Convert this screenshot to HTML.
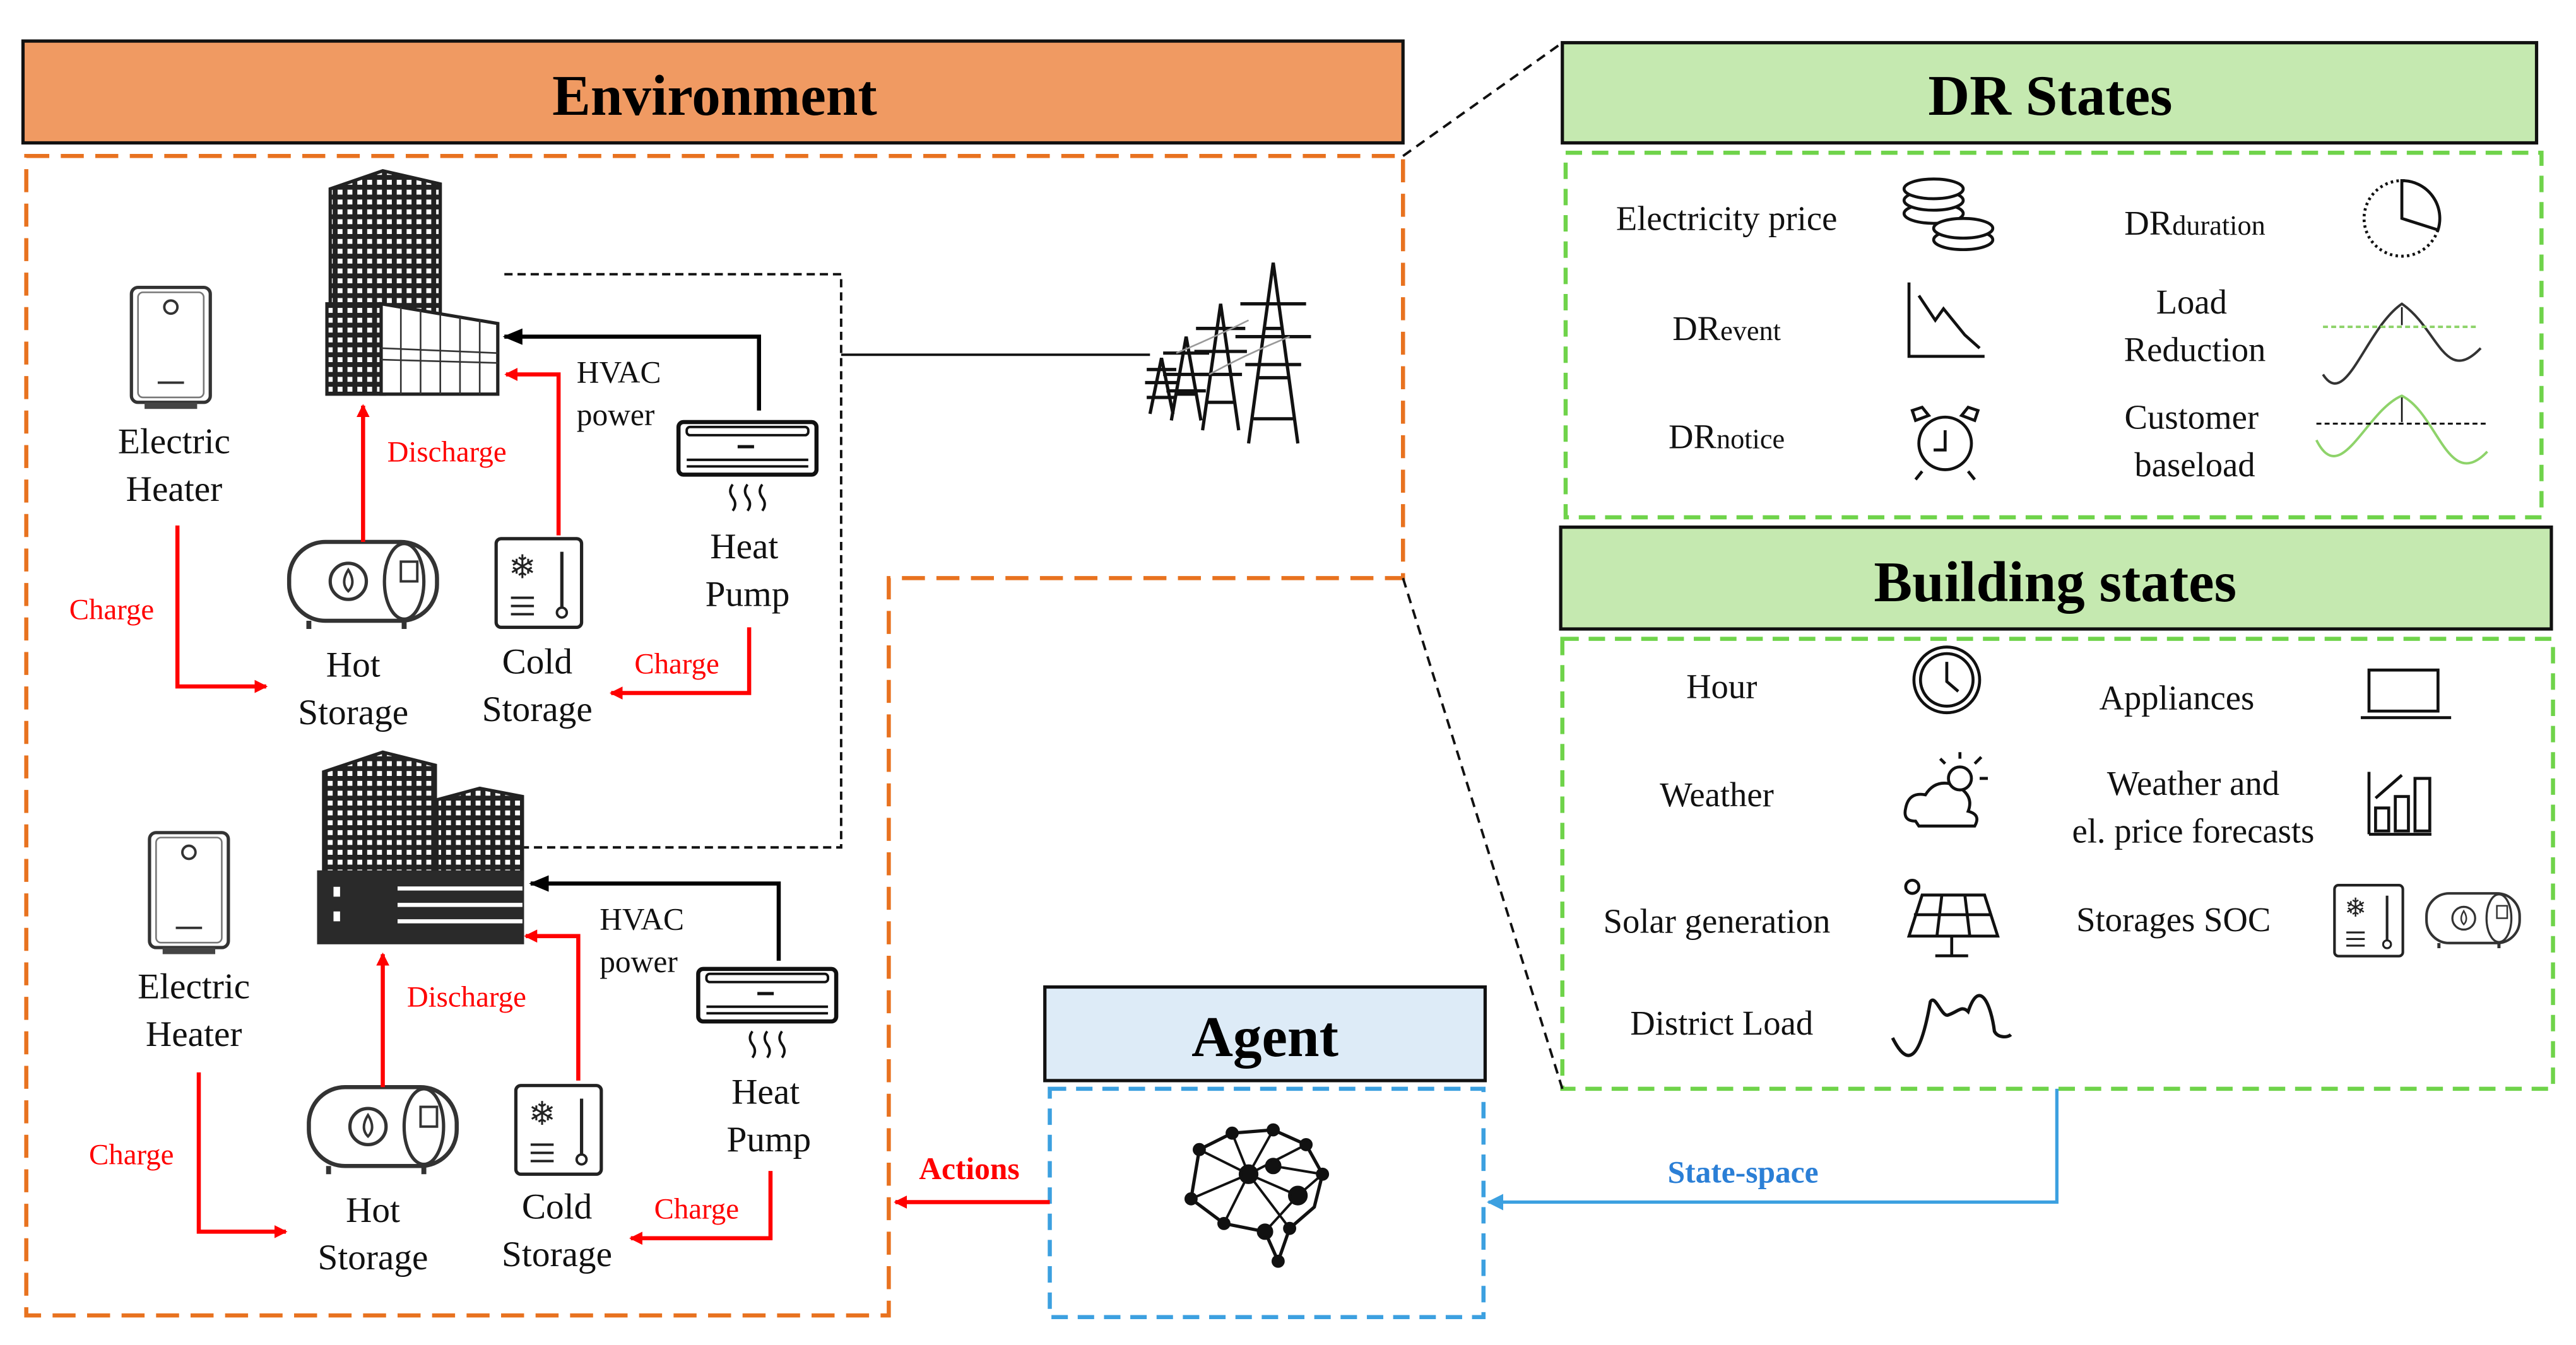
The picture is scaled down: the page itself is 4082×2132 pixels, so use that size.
<!DOCTYPE html>
<html><head><meta charset="utf-8"><style>
html,body{margin:0;padding:0;background:#fff;}
svg{display:block;font-family:"Liberation Serif","DejaVu Serif",serif;}
svg text{font-family:"Liberation Serif","DejaVu Serif",serif;}
</style></head><body>
<svg width="4082" height="2132" viewBox="0 0 1568 819" preserveAspectRatio="none" xmlns="http://www.w3.org/2000/svg" font-family="Liberation Serif, DejaVu Serif, serif">
<defs>
<marker id="ar" markerWidth="8" markerHeight="8" refX="7" refY="4" orient="auto" markerUnits="userSpaceOnUse"><path d="M0,0 L8,4 L0,8 z" fill="#f00"/></marker>
<marker id="ak" markerWidth="12" markerHeight="10" refX="11" refY="5" orient="auto" markerUnits="userSpaceOnUse"><path d="M0,0 L12,5 L0,10 z" fill="#000"/></marker>
<marker id="ab" markerWidth="10" markerHeight="10" refX="9" refY="5" orient="auto" markerUnits="userSpaceOnUse"><path d="M0,0 L10,5 L0,10 z" fill="#3ca0e0"/></marker>
<pattern id="win" width="6" height="6" patternUnits="userSpaceOnUse"><rect width="6" height="6" fill="#222"/><rect x="1.5" y="1.5" width="3" height="3" fill="#fff"/></pattern>
<g id="heater"><rect x="0" y="0" width="48" height="70" rx="4" fill="#fff" stroke="#333" stroke-width="2"/><rect x="4" y="3" width="40" height="64" rx="3" fill="none" stroke="#777" stroke-width="1"/><circle cx="24" cy="12" r="4" fill="none" stroke="#333" stroke-width="1.5"/><line x1="16" y1="58" x2="32" y2="58" stroke="#333" stroke-width="1.5"/><rect x="8" y="70" width="32" height="4" fill="#444"/></g>
<g id="hot"><rect x="0" y="0" width="90" height="48" rx="22" fill="#fff" stroke="#333" stroke-width="2.5"/><ellipse cx="70" cy="24" rx="12" ry="23" fill="none" stroke="#333" stroke-width="2"/><circle cx="36" cy="24" r="11" fill="none" stroke="#333" stroke-width="2"/><path d="M36,17 Q31,25 36,30 Q41,25 36,17z" fill="none" stroke="#333" stroke-width="1.5"/><rect x="68" y="12" width="10" height="12" fill="none" stroke="#333" stroke-width="1.5"/><path d="M12,48 v5 M70,48 v5" stroke="#333" stroke-width="3"/></g>
<g id="cold"><rect x="0" y="0" width="52" height="54" rx="3" fill="#fff" stroke="#222" stroke-width="2"/><text x="16" y="24" font-size="20" text-anchor="middle" fill="#222">❄</text><path d="M9,36 h14 M9,41 h14 M9,46 h14" stroke="#222" stroke-width="1.5"/><line x1="40" y1="8" x2="40" y2="42" stroke="#222" stroke-width="2"/><circle cx="40" cy="45" r="3" fill="none" stroke="#222" stroke-width="1.5"/></g>
<g id="hp"><rect x="0" y="0" width="84" height="32" rx="3" fill="#fff" stroke="#111" stroke-width="2.5"/><rect x="5" y="3" width="74" height="5" rx="2" fill="none" stroke="#111" stroke-width="1.5"/><line x1="36" y1="15" x2="46" y2="15" stroke="#111" stroke-width="2"/><path d="M5,23 h74 M5,27 h74" stroke="#111" stroke-width="1.5"/><path d="M33,38 q-3,4 0,8 q3,4 0,8 M42,38 q-3,4 0,8 q3,4 0,8 M51,38 q-3,4 0,8 q3,4 0,8" fill="none" stroke="#111" stroke-width="1.5"/></g>
</defs>

<rect x="14" y="25" width="840" height="62" fill="#f09a62" stroke="#111" stroke-width="2"/>
<text x="435" y="70" font-size="35" font-weight="bold" text-anchor="middle">Environment</text>
<path d="M16,95 H854 V352 H541 V801 H16 Z" fill="none" stroke="#e8721f" stroke-width="2.5" stroke-dasharray="14,7"/>

<rect x="951" y="26" width="593" height="61" fill="#c5e9b0" stroke="#111" stroke-width="2"/>
<text x="1248" y="70" font-size="35" font-weight="bold" text-anchor="middle">DR States</text>
<rect x="953" y="93" width="594" height="222" fill="none" stroke="#6fd34a" stroke-width="2.5" stroke-dasharray="10,6"/>
<rect x="950" y="321" width="603" height="62" fill="#c5e9b0" stroke="#111" stroke-width="2"/>
<text x="1251" y="366" font-size="35" font-weight="bold" text-anchor="middle">Building states</text>
<rect x="951" y="389" width="603" height="274" fill="none" stroke="#6fd34a" stroke-width="2.5" stroke-dasharray="10,6"/>

<line x1="854" y1="95" x2="951" y2="26" stroke="#111" stroke-width="1.5" stroke-dasharray="6,4"/>
<line x1="854" y1="352" x2="951" y2="663" stroke="#111" stroke-width="1.5" stroke-dasharray="6,4"/>

<rect x="636" y="601" width="268" height="57" fill="#ddebf7" stroke="#111" stroke-width="2"/>
<text x="770" y="643" font-size="35" font-weight="bold" text-anchor="middle">Agent</text>
<rect x="639" y="663" width="264" height="139" fill="none" stroke="#3ca0e0" stroke-width="2.5" stroke-dasharray="10,6"/>
<g stroke="#111" stroke-width="2" fill="#111">
<path d="M730,700 L750,690 L775,688 L795,697 L805,715 L800,735 L785,748 L778,768 L770,750 L745,745 L725,730 Z" fill="none"/>
<path d="M750,690 L760,715 L775,688 M760,715 L795,697 M760,715 L745,745 M760,715 L785,748 M730,700 L760,715 L725,730 M775,710 L805,715 L790,728 L760,715 M790,728 L770,750" fill="none" stroke-width="1.5"/>
<circle cx="730" cy="700" r="3"/><circle cx="750" cy="690" r="3"/><circle cx="775" cy="688" r="3"/><circle cx="795" cy="697" r="3"/><circle cx="805" cy="715" r="3"/><circle cx="760" cy="715" r="5"/><circle cx="790" cy="728" r="5"/><circle cx="745" cy="745" r="3"/><circle cx="785" cy="748" r="3"/><circle cx="725" cy="730" r="3"/><circle cx="770" cy="750" r="4"/><circle cx="775" cy="710" r="4"/><circle cx="778" cy="768" r="3"/>
</g>

<line x1="639" y1="732" x2="545" y2="732" stroke="#f00" stroke-width="2.5" marker-end="url(#ar)"/>
<text x="590" y="718" font-size="19" font-weight="bold" fill="#f00" text-anchor="middle">Actions</text>
<path d="M1252,663 V732 H906" fill="none" stroke="#3ca0e0" stroke-width="2" marker-end="url(#ab)"/>
<text x="1061" y="720" font-size="19" font-weight="bold" fill="#2b7fd6" text-anchor="middle">State-space</text>

<path d="M307,167 H512 V516 H319" fill="none" stroke="#111" stroke-width="1.5" stroke-dasharray="5,3"/>
<line x1="512" y1="216" x2="700" y2="216" stroke="#111" stroke-width="1.5"/>
<g stroke="#111" stroke-width="2" fill="none">
<path d="M760,270 L775,160 L790,270 M763,255 h24 M766,230 h18 M770,200 h10 M755,185 h40 M752,205 h46 M758,222 h34"/>
<path d="M732,262 L743,185 L754,262 M735,245 h16 M728,200 h30 M727,214 h32 M730,228 h26"/>
<path d="M713,256 L722,205 L731,256 M716,240 h12 M708,215 h28 M708,228 h28 M710,238 h24"/>
<path d="M700,252 L707,218 L714,252 M698,225 h18 M697,233 h20 M698,242 h18"/>
<path d="M716,215 Q740,205 760,195 M736,228 Q760,215 785,205" stroke="#999" stroke-width="1"/>
</g>

<path d="M201,238 V115 L233,104 L268,112 V238 Z" fill="url(#win)" stroke="#222" stroke-width="2"/>
<rect x="199" y="185" width="35" height="55" fill="url(#win)" stroke="#222" stroke-width="2"/>
<path d="M232,185 L303,197 V240 H232 Z" fill="#fff" stroke="#222" stroke-width="2"/>
<path d="M244,187 V240 M256,189 V240 M268,191 V240 M280,193 V240 M292,195 V240 M232,212 L303,215 M232,219 L303,221" stroke="#333" stroke-width="1"/>
<path d="M197,535 V470 L233,458 L265,466 V535 Z" fill="url(#win)" stroke="#222" stroke-width="2"/>
<path d="M266,535 V487 L292,480 L318,485 V535 Z" fill="url(#win)" stroke="#222" stroke-width="2"/>
<rect x="193" y="530" width="126" height="45" fill="#2a2a2a"/>
<path d="M242,541 H318 M242,551 H318 M242,561 H318" stroke="#fff" stroke-width="2.5"/>
<rect x="203" y="540" width="4" height="6" fill="#fff"/><rect x="203" y="555" width="4" height="6" fill="#fff"/>

<use href="#heater" x="80" y="175"/>
<use href="#heater" x="91" y="507"/>
<use href="#hot" x="176" y="330"/>
<use href="#hot" x="188" y="662"/>
<use href="#cold" x="302" y="328"/>
<use href="#cold" x="314" y="661"/>
<use href="#hp" x="413" y="257"/>
<use href="#hp" x="425" y="590"/>

<g fill="none" stroke-width="2.5">
<path d="M462,250 V205 H307" stroke="#000" marker-end="url(#ak)"/>
<path d="M340,326 V228 H308" stroke="#f00" marker-end="url(#ar)"/>
<path d="M221,330 V247" stroke="#f00" marker-end="url(#ar)"/>
<path d="M108,320 V418 H162" stroke="#f00" marker-end="url(#ar)"/>
<path d="M456,382 V422 H372" stroke="#f00" marker-end="url(#ar)"/>
<path d="M474,585 V538 H323" stroke="#000" marker-end="url(#ak)"/>
<path d="M352,658 V570 H320" stroke="#f00" marker-end="url(#ar)"/>
<path d="M233,662 V581" stroke="#f00" marker-end="url(#ar)"/>
<path d="M121,653 V750 H174" stroke="#f00" marker-end="url(#ar)"/>
<path d="M469,713 V754 H384" stroke="#f00" marker-end="url(#ar)"/>
</g>

<g font-size="22" text-anchor="middle" fill="#111">
<text x="106" y="276">Electric</text><text x="106" y="305">Heater</text>
<text x="215" y="412">Hot</text><text x="215" y="441">Storage</text>
<text x="327" y="410">Cold</text><text x="327" y="439">Storage</text>
<text x="453" y="340">Heat</text><text x="455" y="369">Pump</text>
<text x="118" y="608">Electric</text><text x="118" y="637">Heater</text>
<text x="227" y="744">Hot</text><text x="227" y="773">Storage</text>
<text x="339" y="742">Cold</text><text x="339" y="771">Storage</text>
<text x="466" y="672">Heat</text><text x="468" y="701">Pump</text>
</g>
<g font-size="19" fill="#111">
<text x="351" y="233">HVAC</text><text x="351" y="259">power</text>
<text x="365" y="566">HVAC</text><text x="365" y="592">power</text>
</g>
<g font-size="18" fill="#f00" text-anchor="middle">
<text x="272" y="281">Discharge</text>
<text x="68" y="377">Charge</text>
<text x="412" y="410">Charge</text>
<text x="284" y="613">Discharge</text>
<text x="80" y="709">Charge</text>
<text x="424" y="742">Charge</text>
</g>

<g font-size="21" fill="#111" text-anchor="middle">
<text x="1051" y="140">Electricity price</text>
<text x="1051" y="207">DR<tspan font-size="17">event</tspan></text>
<text x="1051" y="273">DR<tspan font-size="17">notice</tspan></text>
<text x="1336" y="143">DR<tspan font-size="17">duration</tspan></text>
<text x="1334" y="191">Load</text><text x="1336" y="220">Reduction</text>
<text x="1334" y="261">Customer</text><text x="1336" y="290">baseload</text>
<text x="1048" y="425">Hour</text>
<text x="1045" y="491">Weather</text>
<text x="1045" y="568">Solar generation</text>
<text x="1048" y="630">District Load</text>
<text x="1325" y="432">Appliances</text>
<text x="1335" y="484">Weather and</text><text x="1335" y="513">el. price forecasts</text>
<text x="1323" y="567">Storages SOC</text>
</g>
<g fill="#fff" stroke="#111" stroke-width="1.8">
<ellipse cx="1177" cy="130" rx="18" ry="6"/><ellipse cx="1177" cy="122" rx="18" ry="6"/><ellipse cx="1177" cy="115" rx="18" ry="6"/>
<ellipse cx="1195" cy="146" rx="18" ry="6"/><ellipse cx="1195" cy="139" rx="18" ry="6"/>
<path d="M1162,172 V217 H1208 M1168,180 L1178,195 L1183,188 L1196,204 L1205,212" fill="none"/>
<circle cx="1184" cy="270" r="16"/><path d="M1184,262 V274 H1177 M1170,287 L1166,292 M1198,287 L1202,292" fill="none"/>
<path d="M1166,256 L1164,250 L1170,248 L1174,253 Z M1202,256 L1204,250 L1198,248 L1194,253 Z"/>
<circle cx="1462" cy="133" r="23" fill="none" stroke-dasharray="1.5,2"/>
<path d="M1462,110 A23,23 0 0 1 1484,140 L1462,133 Z" fill="#fff"/>
<path d="M1414,228 C1428,250 1440,200 1462,185 C1484,200 1488,235 1510,212" fill="none" stroke="#333" stroke-width="1.5"/>
<line x1="1414" y1="199" x2="1508" y2="199" stroke="#8ed36a" stroke-width="1.5" stroke-dasharray="3,2"/>
<path d="M1462,187 V198" stroke-width="1"/>
<path d="M1410,268 C1425,298 1440,250 1462,241 C1484,252 1490,300 1514,275" fill="none" stroke="#8ed36a" stroke-width="1.5"/>
<line x1="1410" y1="258" x2="1514" y2="258" stroke="#111" stroke-width="1.2" stroke-dasharray="3,2"/>
<path d="M1462,242 V257" stroke-width="1"/>
<circle cx="1185" cy="414" r="20"/><circle cx="1185" cy="414" r="16"/><path d="M1185,403 V415 L1192,421" fill="none"/>
<path d="M1442,408 H1484 V433 H1442 Z M1437,437 H1492" fill="none"/>
<path d="M1166,500 Q1158,500 1160,492 Q1162,482 1172,484 Q1178,474 1190,478 Q1202,484 1198,494 Q1206,496 1202,503 H1168 Z"/>
<circle cx="1193" cy="474" r="7"/>
<path d="M1193,462 V458 M1205,474 H1210 M1202,465 L1206,461 M1184,465 L1181,462" fill="none"/>
<path d="M1442,508 V470 M1442,508 H1480 M1446,492 h8 v14 h-8z M1458,485 h8 v21 h-8z M1470,474 h9 v32 h-9z M1446,486 L1462,472" fill="none"/>
<path d="M1170,545 H1208 L1216,570 H1162 Z M1165,557 H1212 M1182,545 L1179,570 M1196,545 L1199,570 M1188,570 V582 M1178,582 H1198" fill="none"/>
<circle cx="1164" cy="540" r="4" fill="none"/>
<path d="M1152,632 C1160,648 1168,650 1175,610 C1178,605 1182,620 1186,618 C1192,616 1194,612 1198,616 C1205,595 1212,612 1214,628 C1216,632 1222,632 1224,630" fill="none" stroke-width="2"/>
</g>
<use href="#cold" x="1421" y="539" transform="translate(1421,539) scale(0.8) translate(-1421,-539)"/>
<use href="#hot" x="1477" y="544" transform="translate(1477,544) scale(0.63) translate(-1477,-544)"/>
</svg>
</body></html>
